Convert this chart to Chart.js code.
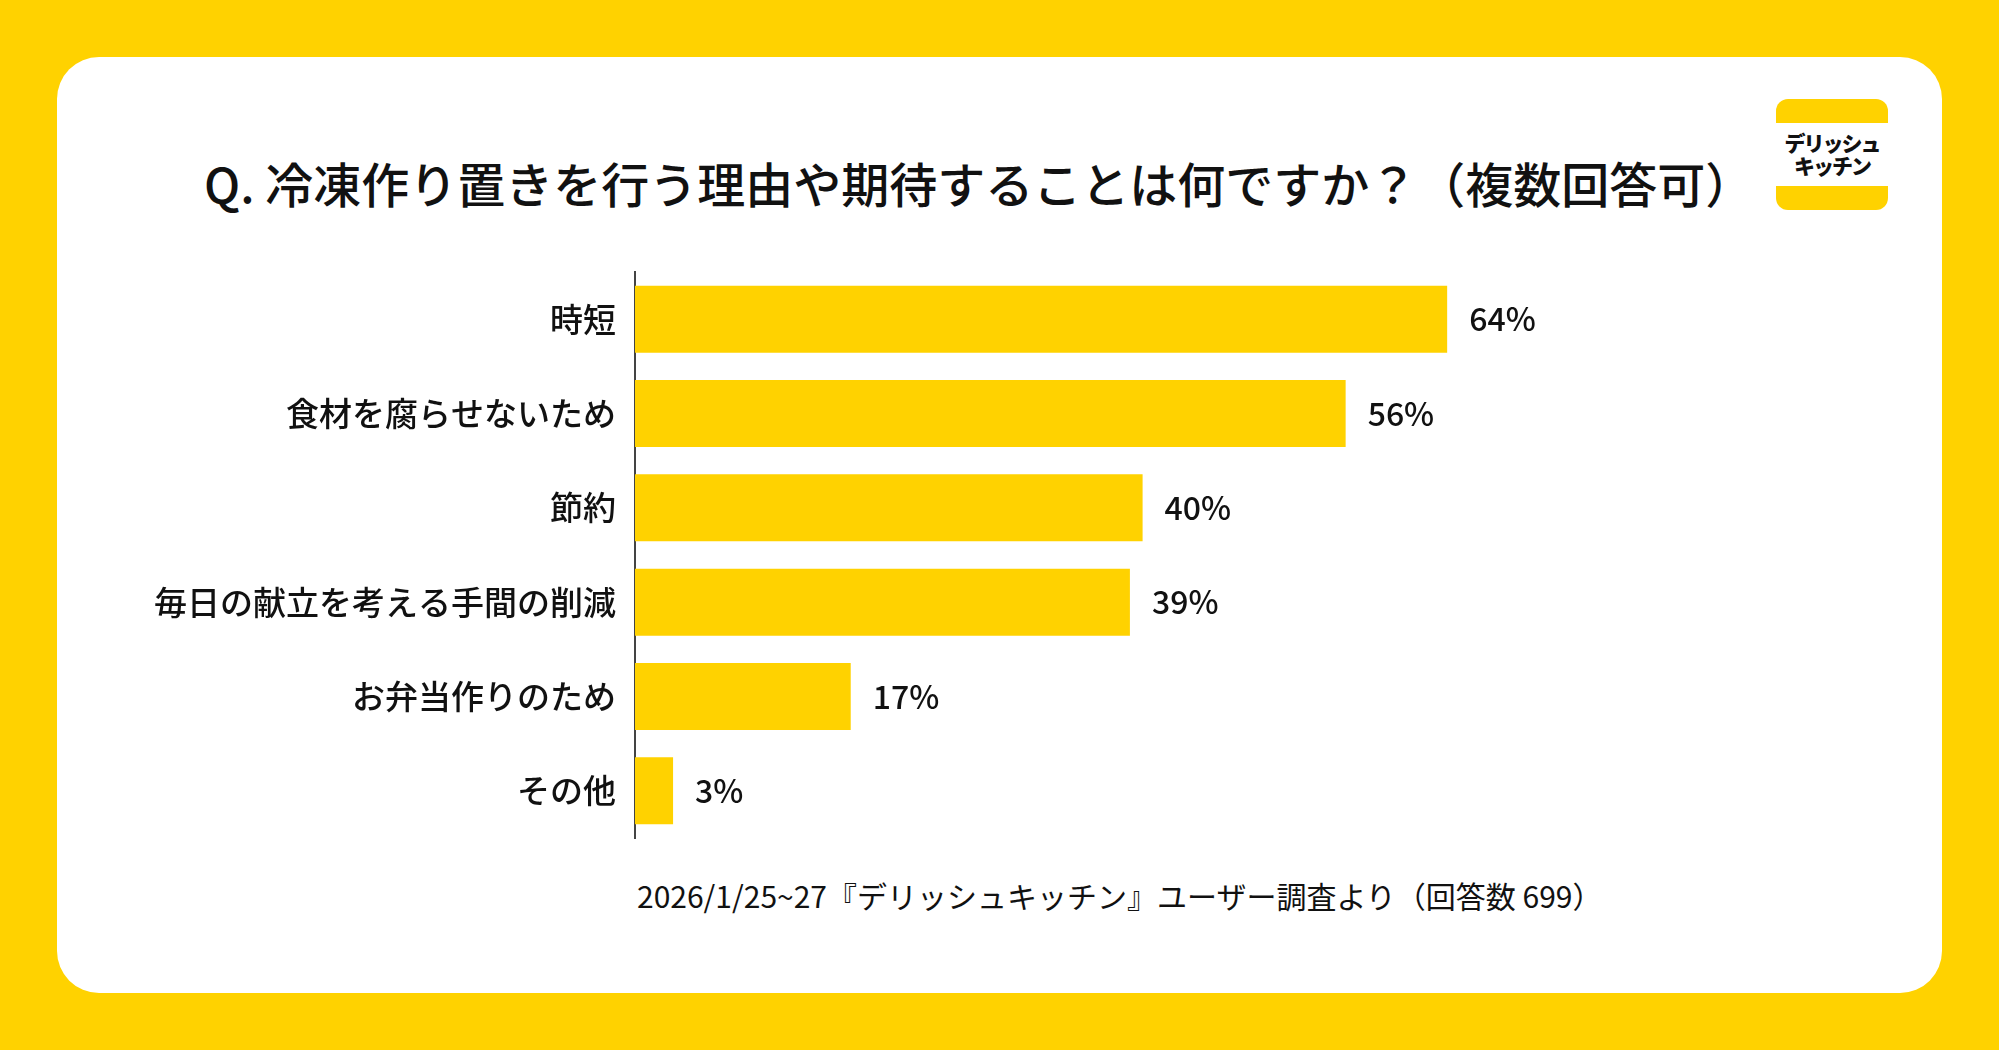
<!DOCTYPE html>
<html>
<head>
<meta charset="utf-8">
<script src="https://cdn.jsdelivr.net/npm/chart.js@4.4.1/dist/chart.umd.min.js"></script>
<style>
  html, body { margin: 0; padding: 0; }
  body {
    width: 1999px; height: 1050px; background: #FFD200; position: relative; overflow: hidden;
    font-family: "Noto Sans CJK JP", "Noto Sans", sans-serif; color: #111;
  }
  #panel {
    position: absolute; left: 57px; top: 57px; width: 1885px; height: 936px;
    background: #fff; border-radius: 42px;
  }
  #title {
    position: absolute; left: 204px; top: 150px; font-size: 48px; font-weight: 500;
    line-height: 64px; white-space: nowrap; letter-spacing: 0;
  }
  #logo {
    position: absolute; left: 1776px; top: 99px; width: 112px; height: 111px; border-radius: 12px;
    background: linear-gradient(#FFD200 0 24px, #fff 24px 87px, #FFD200 87px 111px);
    text-align: center; font-weight: 900; font-size: 21px; line-height: 23px;
  }
  #logo span { display: block; padding-top: 32px; letter-spacing: -2px; }
  #note {
    position: absolute; left: 637px; top: 875px; font-size: 30px; line-height: 40px; white-space: nowrap;
  }
  #chart { position: absolute; left: 0; top: 0; }
</style>
</head>
<body>
<div id="panel"></div>
<div id="title">Q. 冷凍作り置きを行う理由や期待することは何ですか？（複数回答可）</div>
<div id="logo"><span>デリッシュ<br>キッチン</span></div>
<div id="note">2026/1/25~27『デリッシュキッチン』ユーザー調査より（回答数 699）</div>
<canvas id="chart" width="1999" height="1050"></canvas>
<script>
const reasons = ['時短', '食材を腐らせないため', '節約', '毎日の献立を考える手間の削減', 'お弁当作りのため', 'その他'];
const shares = [64, 56, 40, 39, 17, 3];

const barYellow = '#FFD200';

// percent labels to the right of each bar
const valueLabels = {
  id: 'valueLabels',
  afterDatasetsDraw(chart) {
    const ctx = chart.ctx;
    const meta = chart.getDatasetMeta(0);
    ctx.save();
    ctx.font = '500 32px "Noto Sans CJK JP"';
    ctx.fillStyle = '#111';
    ctx.textAlign = 'left';
    ctx.textBaseline = 'middle';
    meta.data.forEach((bar, i) => {
      ctx.fillText(shares[i] + '%', bar.x + 22, bar.y);
    });
    ctx.restore();
  }
};

new Chart(document.getElementById('chart').getContext('2d'), {
  type: 'bar',
  data: {
    labels: reasons,
    datasets: [{
      data: shares,
      backgroundColor: barYellow,
      borderWidth: 0,
      barPercentage: 0.71,
      categoryPercentage: 1
    }]
  },
  options: {
    indexAxis: 'y',
    responsive: false,
    animation: false,
    devicePixelRatio: 1,
    layout: { padding: { left: 0, right: 95, top: 272, bottom: 212 } },
    plugins: { legend: { display: false }, tooltip: { enabled: false } },
    scales: {
      x: { display: false, min: 0, max: 100 },
      y: {
        afterFit(scale) { scale.width = 635; },
        grid: { display: false },
        border: { display: true, color: '#444', width: 2 },
        ticks: {
          padding: 11,
          color: '#111',
          font: { family: '"Noto Sans CJK JP"', size: 33, weight: '500' }
        }
      }
    }
  },
  plugins: [valueLabels]
});
</script>
</body>
</html>
